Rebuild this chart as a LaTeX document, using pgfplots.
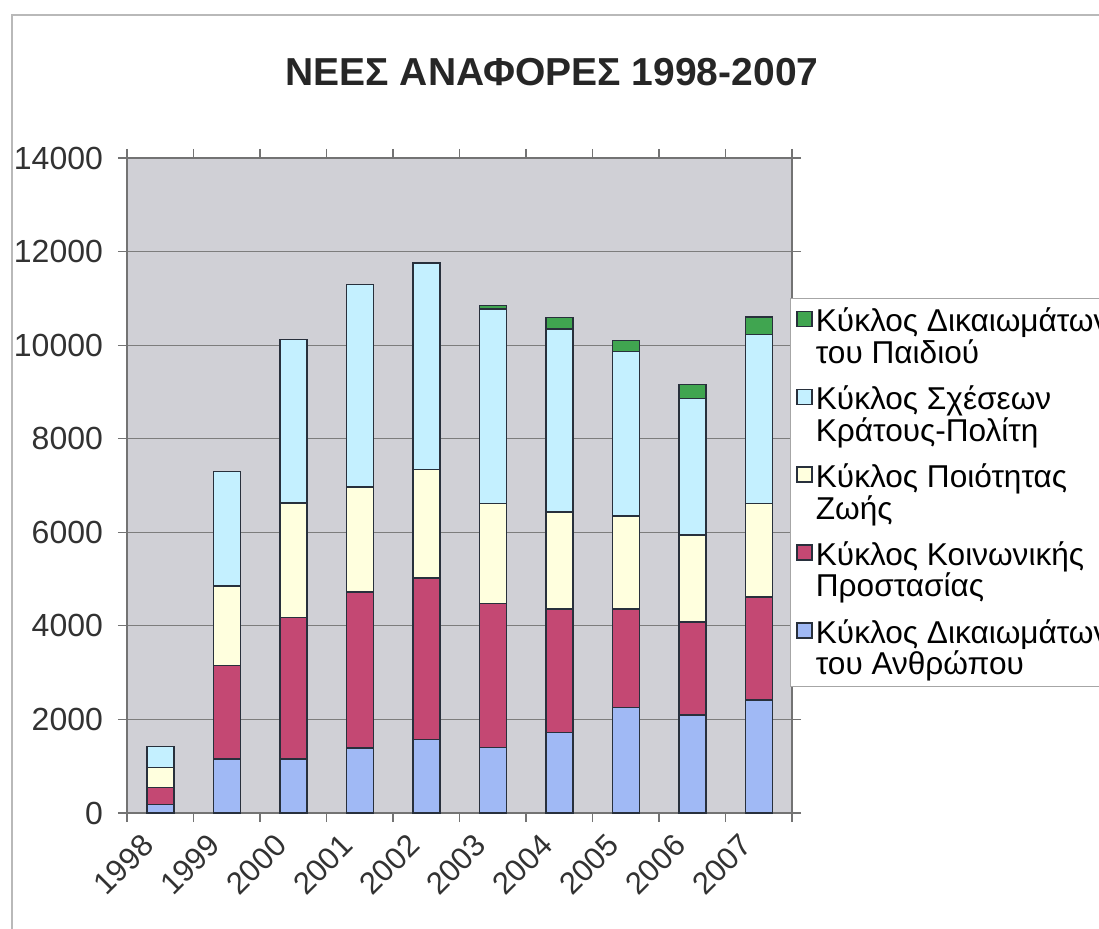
\documentclass[border=0pt]{standalone}
\usepackage{fontspec}
\setmainfont{Liberation Sans}
\usepackage{pgfplots}
\usepackage{pgfplotstable}
\pgfplotsset{compat=1.18}
\definecolor{cblue}{RGB}{160,185,245}
\definecolor{cred}{RGB}{196,72,115}
\definecolor{cyellow}{RGB}{255,255,222}
\definecolor{ccyan}{RGB}{196,240,255}
\definecolor{cgreen}{RGB}{64,165,80}
\definecolor{plotbg}{RGB}{208,208,214}
\definecolor{gridgray}{RGB}{125,125,125}
\definecolor{axisgray}{RGB}{115,115,115}
\definecolor{barline}{RGB}{40,48,60}
\definecolor{labelgray}{RGB}{50,50,50}

\pgfplotstableread{
x year blue red yellow cyan green
0 1998 180 360 435 450 0
1 1999 1150 2000 1700 2450 0
2 2000 1150 3030 2450 3490 0
3 2001 1390 3330 2250 4330 0
4 2002 1570 3450 2320 4420 0
5 2003 1400 3080 2140 4150 80
6 2004 1720 2640 2070 3920 240
7 2005 2260 2100 1990 3510 240
8 2006 2100 1980 1860 2920 300
9 2007 2420 2200 2000 3610 370
}\data

\begin{document}
\begin{tikzpicture}
\useasboundingbox (0,0) rectangle (549.5pt,464pt);
\draw[gray!55, line width=0.6pt] (6pt,-20pt) |- (620pt,456.5pt);
\begin{axis}[
  at={(63.5pt,57.5pt)}, anchor=south west,
  scale only axis, width=332.5pt, height=327.5pt,
  ymin=0, ymax=14000, ytick={0,2000,...,14000},
  xmin=-0.5, xmax=9.5,
  ybar stacked, bar width=13.5pt,
  axis background/.style={fill=plotbg},
  ymajorgrids, grid style={draw=gridgray, line width=0.6pt},
  axis line style={draw=axisgray, line width=0.7pt},
  tick align=outside, major tick length=4.5pt,
  tick style={draw=axisgray, line width=0.6pt},
  xtick={-0.5,0.5,...,9.5}, xticklabels={},
  extra x ticks={0,1,2,3,4,5,6,7,8,9},
  extra x tick labels={1998,1999,2000,2001,2002,2003,2004,2005,2006,2007},
  extra x tick style={major tick length=0pt, grid=none},
  xticklabel style={xshift=-10pt, yshift=-8pt, rotate=45, anchor=north east, font=\fontsize{15.5}{17}\selectfont, text=labelgray, inner sep=1pt},
  yticklabel style={font=\fontsize{16}{18}\selectfont, text=labelgray, xshift=-4pt},
  /pgf/number format/assume math mode=true,
  /pgf/number format/set thousands separator={},
  scaled y ticks=false,
  every axis plot/.append style={draw=barline, line width=0.75pt},
  reverse legend,
  legend image code/.code={\draw[#1] (0pt,-11pt) rectangle (7.5pt,-3.5pt);},
  legend style={at={(0.997,0.786)}, anchor=north west, draw=gray!70, fill=white,
    font=\fontsize{15.8}{15.8}\selectfont,
    cells={anchor=north west, align=left}, nodes={inner sep=1.5pt},
    row sep=6.5pt, inner xsep=3pt, inner ysep=3pt},
]
\addplot[fill=cblue] table[x=x, y=blue]{\data};
\addlegendentry{Κύκλος Δικαιωμάτων\\του Ανθρώπου}
\addplot[fill=cred] table[x=x, y=red]{\data};
\addlegendentry{Κύκλος Κοινωνικής\\Προστασίας}
\addplot[fill=cyellow] table[x=x, y=yellow]{\data};
\addlegendentry{Κύκλος Ποιότητας\\Ζωής}
\addplot[fill=ccyan] table[x=x, y=cyan]{\data};
\addlegendentry{Κύκλος Σχέσεων\\Κράτους-Πολίτη}
\addplot[fill=cgreen] table[x=x, y=green]{\data};
\addlegendentry{Κύκλος Δικαιωμάτων\\του Παιδιού}
\end{axis}
\node[font=\fontsize{19.5}{22}\selectfont\bfseries, text=black!85, anchor=base] at (276pt,421pt) {ΝΕΕΣ ΑΝΑΦΟΡΕΣ 1998-2007};
\end{tikzpicture}
\end{document}
